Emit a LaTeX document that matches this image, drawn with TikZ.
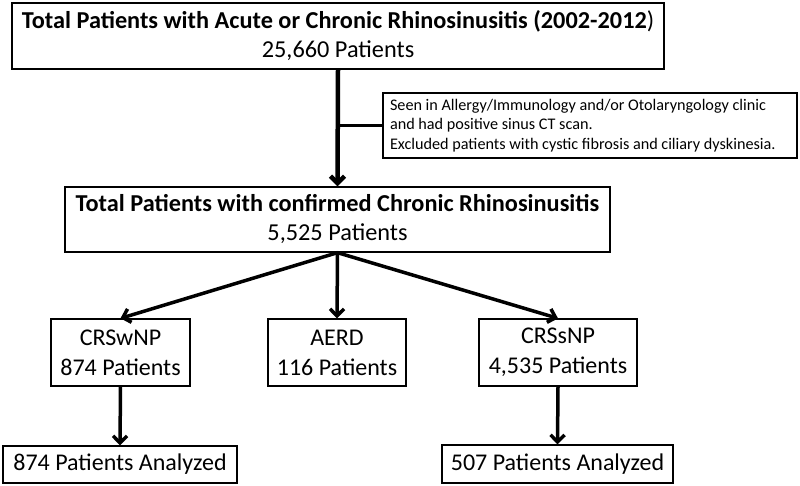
\documentclass[tikz,border=0pt]{standalone}
\usepackage{fontspec}
\setmainfont{Carlito}
\usetikzlibrary{arrows.meta}
\begin{document}
\begin{tikzpicture}[x=1pt,y=-1pt,
  box/.style={draw, line width=1.3pt, inner sep=0pt, align=center},
  bigtxt/.style={font=\fontsize{24.3}{29}\selectfont},
  lowtxt/.style={font=\fontsize{24}{30}\selectfont},
  notetxt/.style={font=\fontsize{16.2}{19.5}\selectfont},
  arr/.style={line width=3.5pt, -{Straight Barb[length=7pt,width=14pt]}}]
\useasboundingbox (0,0) rectangle (800,485);
\fill[white] (0,0) rectangle (800,485);
\node[box, bigtxt, minimum width=652pt, minimum height=66pt] (top) at (338,36)
  {\textbf{Total Patients with Acute or Chronic Rhinosinusitis (2002-2012})\\25,660 Patients};
\node[box, notetxt, align=flush left, inner xsep=7pt, text width=400pt, minimum height=65pt] (note) at (590,125.5)
  {Seen in Allergy/Immunology and/or Otolaryngology clinic\\and had positive sinus CT scan.\\Excluded patients with cystic fibrosis and ciliary dyskinesia.};
\node[box, bigtxt, minimum width=545pt, minimum height=65pt] (mid) at (337.5,219.5)
  {\textbf{Total Patients with confirmed Chronic Rhinosinusitis}\\5,525 Patients};
\node[box, lowtxt, minimum width=139pt, minimum height=67pt] (crsw) at (120.5,352.5)
  {CRSwNP\\874 Patients};
\node[box, lowtxt, minimum width=138pt, minimum height=67pt] (aerd) at (337,352.5)
  {AERD\\116 Patients};
\node[box, lowtxt, minimum width=158pt, minimum height=67pt] (crss) at (558,352.5)
  {CRSsNP\\4,535 Patients};
\node[box, lowtxt, minimum width=234pt, minimum height=37pt] (anw) at (120,464.5)
  {874 Patients Analyzed};
\node[box, lowtxt, minimum width=231pt, minimum height=38pt] (ans) at (557.5,464)
  {507 Patients Analyzed};
\draw[arr, line width=4.5pt] (top.south) -- (mid.north);
\draw[line width=2.5pt] (note.west) -- (note.west -| top.south);
\draw[arr] (mid.south) -- (crsw.north);
\draw[arr] (mid.south) -- (aerd.north);
\draw[arr] (mid.south) -- (crss.north);
\draw[arr] (crsw.south) -- (anw.north);
\draw[arr] (crss.south) -- (ans.north);
\end{tikzpicture}
\end{document}
